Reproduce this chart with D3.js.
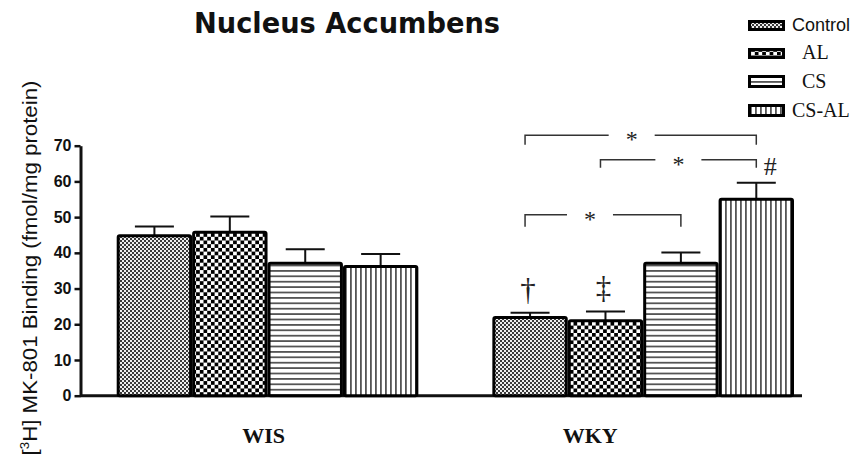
<!DOCTYPE html>
<html>
<head>
<meta charset="utf-8">
<script src="https://cdn.jsdelivr.net/npm/d3@7"></script>
<style>
  body { margin: 0; background: #fff; }
  svg { display: block; }
</style>
</head>
<body>
<div id="chart"></div>
<script>
// data
const groups = ["WIS", "WKY"];
const series = ["Control", "AL", "CS", "CS-AL"];
const means = {
  WIS: [44.8, 45.8, 37.1, 36.2],
  WKY: [21.9, 21.0, 37.1, 55.0]
};
const errTops = {
  WIS: [47.4, 50.2, 41.0, 39.7],
  WKY: [23.2, 23.6, 40.1, 59.6]
};
const yTicks = [0, 10, 20, 30, 40, 50, 60, 70];
// significance brackets inside WKY: [from, to, bracket level, arm end]
const brackets = [
  ["Control", "CS-AL", 72.9, 70.3],
  ["AL", "CS-AL", 66.1, 63.8],
  ["Control", "CS", 50.7, 47.3]
];
const marks = [
  ["Control", "\u2020"],
  ["AL", "\u2021"],
  ["CS-AL", "#"]
];

const WIDTH = 864, HEIGHT = 466;

let svg = d3.select("#chart")
  .append("svg")
    .attr("width", WIDTH)
    .attr("height", HEIGHT);

// patterns
let defs = svg.append("defs");

let p1 = defs.append("pattern").attr("id", "pat-Control")
  .attr("patternUnits", "userSpaceOnUse").attr("width", 4).attr("height", 4);
p1.append("rect").attr("width", 4).attr("height", 4).attr("fill", "#eee");
p1.append("rect").attr("width", 2).attr("height", 2).attr("fill", "#3a3a3a");
p1.append("rect").attr("x", 2).attr("y", 2).attr("width", 2).attr("height", 2).attr("fill", "#3a3a3a");

let p2 = defs.append("pattern").attr("id", "pat-AL")
  .attr("patternUnits", "userSpaceOnUse").attr("width", 7.4).attr("height", 7.4);
p2.append("rect").attr("width", 7.4).attr("height", 7.4).attr("fill", "#fff");
p2.append("rect").attr("width", 3.7).attr("height", 3.7).attr("fill", "#000");
p2.append("rect").attr("x", 3.7).attr("y", 3.7).attr("width", 3.7).attr("height", 3.7).attr("fill", "#000");

let p3 = defs.append("pattern").attr("id", "pat-CS")
  .attr("patternUnits", "userSpaceOnUse").attr("width", 5.4).attr("height", 5.4);
p3.append("rect").attr("width", 5.4).attr("height", 5.4).attr("fill", "#fff");
p3.append("rect").attr("width", 5.4).attr("height", 1.8).attr("fill", "#555");

let p4 = defs.append("pattern").attr("id", "pat-CS-AL")
  .attr("patternUnits", "userSpaceOnUse").attr("width", 5).attr("height", 5);
p4.append("rect").attr("width", 5).attr("height", 5).attr("fill", "#fff");
p4.append("rect").attr("width", 1.8).attr("height", 5).attr("fill", "#555");

// scales
let y = d3.scaleLinear().domain([0, 70]).range([395.7, 145.7]);
let x0 = d3.scaleBand().domain(groups).range([116.7, 794]).paddingInner(0.197).paddingOuter(0);
let x1 = d3.scaleBand().domain(series).range([0, x0.bandwidth()]).padding(0);

// y axis
let yAxis = svg.append("g")
  .attr("transform", "translate(80.5,0)")
  .call(d3.axisLeft(y).tickValues(yTicks).tickSize(6).tickSizeOuter(0).tickPadding(3));
yAxis.select(".domain").attr("stroke", "#111").attr("stroke-width", 3);
yAxis.selectAll(".tick line").attr("stroke", "#111").attr("stroke-width", 2.5);
yAxis.selectAll(".tick text")
  .attr("font-family", "Liberation Sans, Arial, sans-serif")
  .attr("font-weight", "bold")
  .attr("font-size", 16)
  .attr("fill", "#111");

// x axis line
svg.append("line")
  .attr("x1", 80).attr("x2", 802)
  .attr("y1", y(0)).attr("y2", y(0))
  .attr("stroke", "#111").attr("stroke-width", 3);

// bars
let rows = [];
groups.forEach(g => series.forEach((s, i) => {
  rows.push({group: g, series: s, value: means[g][i], err: errTops[g][i]});
}));

let barG = svg.append("g");

// error bars first so bar outline covers the stem foot
barG.selectAll(".err")
  .data(rows)
  .enter().append("path")
    .attr("fill", "none")
    .attr("stroke", "#111")
    .attr("stroke-width", 2)
    .attr("d", d => {
      let cx = x0(d.group) + x1(d.series) + x1.bandwidth() / 2;
      return "M" + cx + "," + y(d.value) + "V" + y(d.err) +
             "M" + (cx - 19.5) + "," + y(d.err) + "H" + (cx + 19.5);
    });

barG.selectAll(".bar")
  .data(rows)
  .enter().append("rect")
    .attr("x", d => x0(d.group) + x1(d.series) + 1.5)
    .attr("y", d => y(d.value))
    .attr("width", x1.bandwidth() - 3)
    .attr("height", d => y(0) - y(d.value))
    .attr("rx", 1.5)
    .attr("fill", d => "url(#pat-" + d.series + ")")
    .attr("stroke", "#000")
    .attr("stroke-width", 3);

// significance brackets on WKY
function cx(s) { return x0("WKY") + x1(s) + x1.bandwidth() / 2; }

let annot = svg.append("g");
brackets.forEach(b => {
  let xa = cx(b[0]) - 5, xb = cx(b[1]);
  let mid = (xa + xb) / 2 - (b[0] === "Control" && b[1] === "CS" ? 13 : 0) + (b[1] === "CS-AL" && b[0] === "Control" ? -9 : 0);
  let gap = 23;
  annot.append("path")
    .attr("fill", "none")
    .attr("stroke", "#333")
    .attr("stroke-width", 1.5)
    .attr("d", "M" + xa + "," + y(b[3]) + "V" + y(b[2]) + "H" + (mid - gap) +
               "M" + (mid + gap) + "," + y(b[2]) + "H" + xb + "V" + y(b[3]));
  annot.append("text")
    .attr("x", mid)
    .attr("y", y(b[2]) + 12)
    .attr("text-anchor", "middle")
    .attr("font-family", "Liberation Serif, Times New Roman, serif")
    .attr("font-size", 24)
    .attr("fill", "#222")
    .text("*");
});

marks.forEach(m => {
  let i = series.indexOf(m[0]);
  let top = y(errTops.WKY[i]);
  let isHash = m[1] === "#";
  annot.append("text")
    .attr("x", cx(m[0]) + (isHash ? 14 : -2))
    .attr("y", isHash ? top - 8 : top - 13)
    .attr("text-anchor", "middle")
    .attr("font-family", "Liberation Serif, Times New Roman, serif")
    .attr("font-size", isHash ? 26 : 31)
    .attr("fill", "#222")
    .text(m[1]);
});

// group labels
const labelShift = {WIS: -4, WKY: -53};
svg.selectAll(".glabel")
  .data(groups)
  .enter().append("text")
    .attr("x", g => x0(g) + x0.bandwidth() / 2 + labelShift[g])
    .attr("y", 443)
    .attr("text-anchor", "middle")
    .attr("font-family", "Liberation Serif, Times New Roman, serif")
    .attr("font-weight", "bold")
    .attr("font-size", 22)
    .attr("fill", "#111")
    .text(g => g);

// y label
let ylab = svg.append("text")
  .attr("transform", "translate(37,268) rotate(-90)")
  .attr("text-anchor", "middle")
  .attr("font-family", "Liberation Sans, Arial, sans-serif")
  .attr("font-size", 20)
  .attr("fill", "#111")
  .attr("textLength", 375)
  .attr("lengthAdjust", "spacingAndGlyphs");
ylab.append("tspan").text("[");
ylab.append("tspan").attr("font-size", 12).attr("dy", -8).text("3");
ylab.append("tspan").attr("dy", 8).text("H] MK-801 Binding (fmol/mg protein)");

// title
svg.append("text")
  .attr("x", 194)
  .attr("y", 33)
  .attr("font-family", "DejaVu Sans, Verdana, sans-serif")
  .attr("font-weight", "bold")
  .attr("font-size", 28.5)
  .attr("fill", "#111")
  .attr("textLength", 306)
  .attr("lengthAdjust", "spacingAndGlyphs")
  .text("Nucleus Accumbens");

// legend
const legendY = [20, 48, 75, 104];
const legendTextX = [792, 802, 802, 792];
let leg = svg.append("g");
series.forEach((s, i) => {
  let h = (s === "CS" || s === "CS-AL") ? 13 : 11;
  leg.append("rect")
    .attr("x", 748).attr("y", legendY[i])
    .attr("width", 37).attr("height", h)
    .attr("fill", "#000");
  leg.append("rect")
    .attr("x", 751).attr("y", legendY[i] + 3)
    .attr("width", 31).attr("height", h - 6)
    .attr("fill", "url(#pat-" + s + ")");
  leg.append("text")
    .attr("x", legendTextX[i])
    .attr("y", legendY[i] + h)
    .attr("font-family", s === "Control" ? "Liberation Sans, Arial, sans-serif" : "Liberation Serif, Times New Roman, serif")
    .attr("font-size", s === "Control" ? 18 : 20)
    .attr("fill", "#111")
    .text(s);
});
</script>
</body>
</html>
